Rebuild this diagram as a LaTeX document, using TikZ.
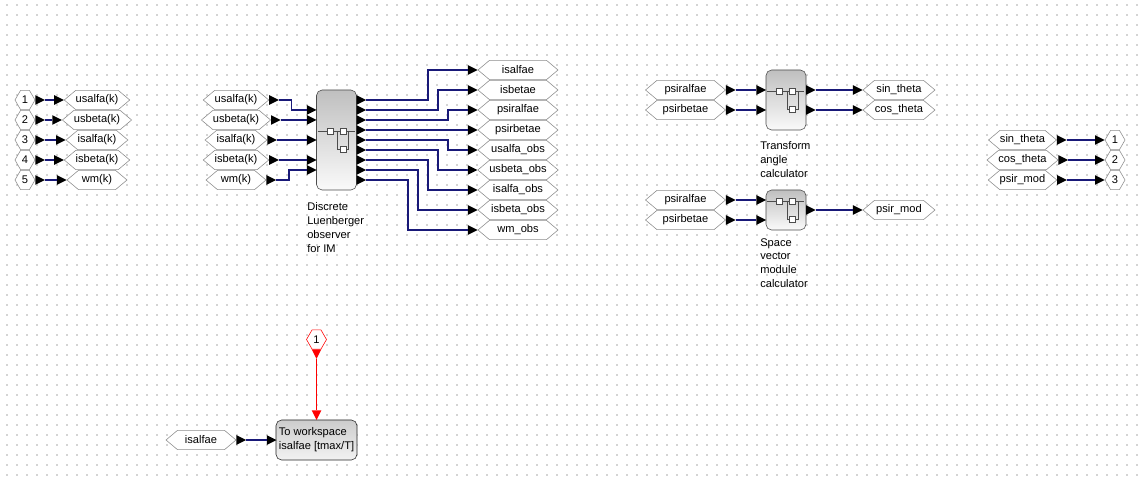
\documentclass[tikz,border=0pt]{standalone}
\usepackage{fontspec}
\setmainfont{Liberation Sans}
\usetikzlibrary{positioning, shapes}
\definecolor{linkc}{RGB}{25,25,120}
\definecolor{gridc}{RGB}{212,212,212}
\newcommand{\xfont}{\fontsize{7.9pt}{9.9pt}\selectfont}
% superblock icon, drawn round the centre of a block
\newcommand{\sbicon}[1]{%
  \begin{scope}[shift={(#1.center)}, draw=gray!60!black]
    \draw (-19,-9) -- (18,-9);
    \draw (1,-9) -- (1,9) -- (12,9) -- (12,-9);
    \draw[fill=white] (-9.5,-12) rectangle (-3.5,-6);
    \draw[fill=white] (3.5,-12) rectangle (9.5,-6);
    \draw[fill=white] (3.5,6) rectangle (9.5,12);
  \end{scope}}

\begin{document}
\begin{tikzpicture}[
    x=0.025cm, y=-0.025cm, every node/.style={font=\xfont},
    hexa/.style={signal, signal to=west and east, signal pointer angle=80, draw=gray!90, fill=white, inner sep=0pt, minimum height=0.48cm},
    numhex/.style={hexa, signal pointer angle=120, minimum width=0.5cm},
    sblock/.style={draw=gray!60!black, rounded corners=4pt, top color=gray!50, bottom color=gray!4, minimum width=1cm, inner sep=0pt},
    wsblock/.style={draw=gray!30!black, rounded corners=4pt, top color=gray!40, bottom color=gray!10, align=left, inner sep=2pt},
    port/.style={isosceles triangle, isosceles triangle stretches, fill=black, inner sep=0pt, outer sep=0pt, minimum width=0.24cm, minimum height=0.24cm},
    eport/.style={port, shape border rotate=270, fill=red},
    wire/.style={draw=linkc, line width=1pt},
    evwire/.style={draw=red, line width=1pt},
    caption/.style={align=left, anchor=north west, inner sep=0pt}
  ]
\useasboundingbox (0,0) rectangle (1143,478);
\fill[white] (0,0) rectangle (1143,478);
\foreach \x in {7,17,...,1137}
  \foreach \y in {5,15,...,475}
    \fill[gridc] (\x-0.6,\y-0.6) rectangle ++(1.2,1.2);

% input ports -> gotos
\foreach \i/\t in {1/usalfa(k),2/usbeta(k),3/isalfa(k),4/isbeta(k),5/wm(k)} {
  \node[numhex] (inp\i) at (25,{80+20*\i}) {\i};
  \node[port, right=0pt of inp\i] (inpo\i) {};
  \node[hexa, minimum width=1.5cm] (gk\i) at (97,{80+20*\i}) {\t};
  \node[port, left=0pt of gk\i] (gki\i) {};
  \draw[wire] (inpo\i.east) -- (gki\i.west);
}

% observer
\node[sblock, minimum height=2.5cm] (obs) at (336.5,140) {};
\sbicon{obs}
\foreach \k/\y in {1/110,2/120,3/140,4/160,5/170}
  \node[port, anchor=east] (obsi\k) at (316.5,\y) {};
\foreach \k in {1,...,9}
  \node[port, anchor=west] (obso\k) at (356.5,{90+10*\k}) {};
\node[caption] (obslbl) at (307,202) {Discrete\\Luenberger\\observer\\for IM};

\foreach \i/\t in {1/usalfa(k),2/usbeta(k),3/isalfa(k),4/isbeta(k),5/wm(k)} {
  \node[hexa, minimum width=1.5cm] (fk\i) at (236,{80+20*\i}) {\t};
  \node[port, right=0pt of fk\i] (fko\i) {};
}
\draw[wire] (fko1.east) -- ++(13,0) |- (obsi1.west);
\draw[wire] (fko2.east) -- (obsi2.west);
\draw[wire] (fko3.east) -- (obsi3.west);
\draw[wire] (fko4.east) -- (obsi4.west);
\draw[wire] (fko5.east) -- ++(13,0) |- (obsi5.west);

\foreach \k/\t in {1/isalfae,2/isbetae,3/psiralfae,4/psirbetae,5/usalfa\_obs,6/usbeta\_obs,7/isalfa\_obs,8/isbeta\_obs,9/wm\_obs} {
  \node[hexa, minimum width=2cm] (ge\k) at (518,{50+20*\k}) {\t};
  \node[port, left=0pt of ge\k] (gei\k) {};
}
\foreach \k/\d in {1/62,2/72,3/82,5/82,6/72,7/62,8/52,9/42}
  \draw[wire] (obso\k.east) -- ++(\d,0) |- (gei\k.west);
\draw[wire] (obso4.east) -- (gei4.west);

% angle calculator
\node[sblock, minimum height=1.5cm] (tac) at (786,100) {};
\sbicon{tac}
\node[caption] (taclbl) at (760,141) {Transform\\angle\\calculator};
\foreach \k/\y/\a/\b in {1/90/psiralfae/sin\_theta,2/110/psirbetae/cos\_theta} {
  \node[hexa, minimum width=2cm] (ft\k) at (685.5,\y) {\a};
  \node[port, right=0pt of ft\k] (fto\k) {};
  \node[port, anchor=east] (taci\k) at (766,\y) {};
  \node[port, anchor=west] (taco\k) at (806,\y) {};
  \node[hexa, minimum width=1.8cm] (gt\k) at (899,\y) {\b};
  \node[port, left=0pt of gt\k] (gti\k) {};
  \draw[wire] (fto\k.east) -- (taci\k.west);
  \draw[wire] (taco\k.east) -- (gti\k.west);
}

% module calculator
\node[sblock, minimum height=1cm] (svm) at (786,210) {};
\sbicon{svm}
\node[caption] (svmlbl) at (760,238) {Space\\vector\\module\\calculator};
\foreach \k/\y/\a in {1/200/psiralfae,2/220/psirbetae} {
  \node[hexa, minimum width=2cm] (fs\k) at (685.5,\y) {\a};
  \node[port, right=0pt of fs\k] (fso\k) {};
  \node[port, anchor=east] (svmi\k) at (766,\y) {};
  \draw[wire] (fso\k.east) -- (svmi\k.west);
}
\node[port, anchor=west] (svmo) at (806,210) {};
\node[hexa, minimum width=1.8cm] (gm) at (899,210) {psir\_mod};
\node[port, left=0pt of gm] (gmi) {};
\draw[wire] (svmo.east) -- (gmi.west);

% outputs
\foreach \k/\t in {1/sin\_theta,2/cos\_theta,3/psir\_mod} {
  \node[hexa, minimum width=1.375cm] (fo\k) at (1022.5,{120+20*\k}) {\t};
  \node[port, right=0pt of fo\k] (foo\k) {};
  \node[numhex] (out\k) at (1115,{120+20*\k}) {\k};
  \node[port, left=0pt of out\k] (outi\k) {};
  \draw[wire] (foo\k.east) -- (outi\k.west);
}

% to workspace
\node[wsblock, minimum width=2.025cm, minimum height=1cm] (ws) at (316.5,440) {To workspace\\isalfae [tmax/T]};
\node[port, anchor=east] (wsi) at (276.5,440) {};
\node[hexa, minimum width=1.75cm] (fw) at (201,440) {isalfae};
\node[port, right=0pt of fw] (fwo) {};
\draw[wire] (fwo.east) -- (wsi.west);
\node[numhex, draw=red] (clk) at (316.5,339.5) {1};
\node[eport, below=0pt of clk] (clko) {};
\node[eport, anchor=apex] (wsev) at (316.5,420) {};
\draw[evwire] (clko.apex) -- (wsev.north);
\end{tikzpicture}
\end{document}
